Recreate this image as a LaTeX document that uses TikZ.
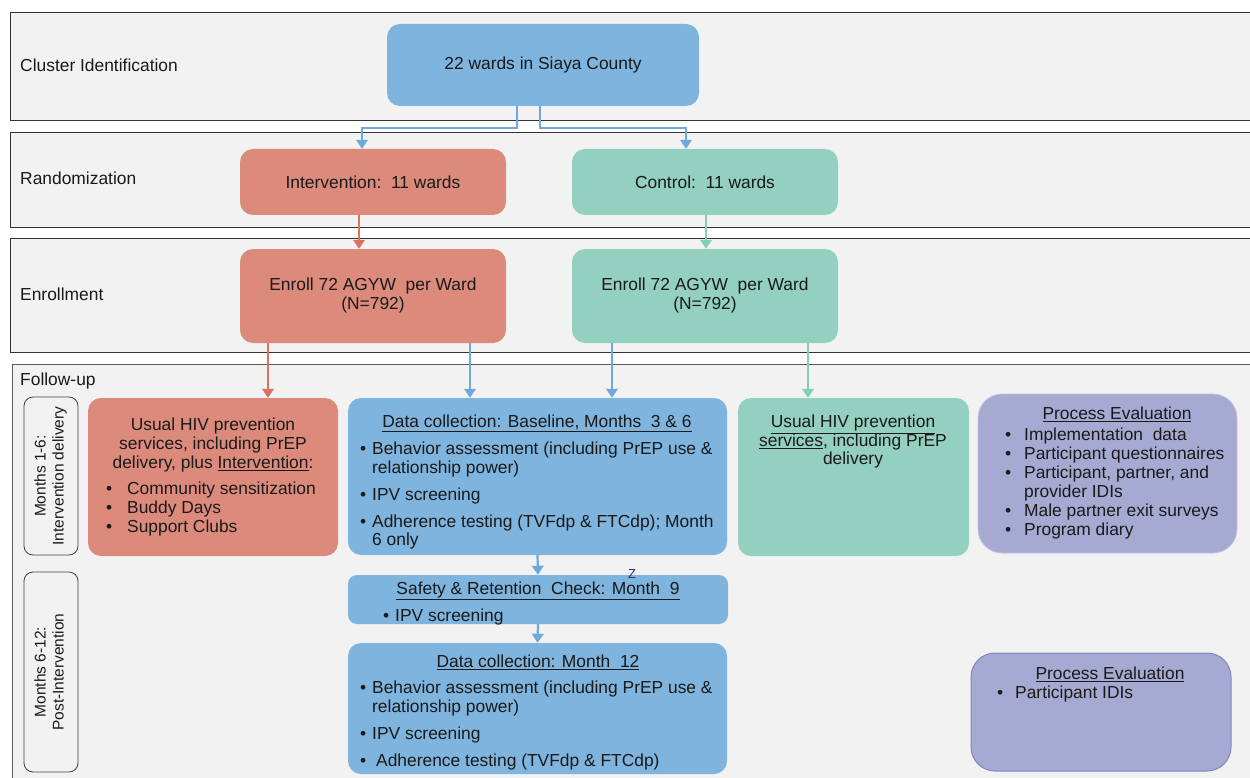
\documentclass[tikz,border=0pt]{standalone}
\usepackage{fontspec}
\setmainfont{Liberation Sans}
\usetikzlibrary{arrows.meta}
\definecolor{bandfill}{HTML}{F2F2F2}
\definecolor{cblue}{HTML}{7EB4DD}
\definecolor{cred}{HTML}{DC8A7C}
\definecolor{cteal}{HTML}{93D0BF}
\definecolor{cpurple}{HTML}{A6AAD2}
\definecolor{cpurpleb}{HTML}{7C86C6}
\definecolor{ablue}{HTML}{6FA8DC}
\definecolor{ared}{HTML}{D9735F}
\definecolor{ateal}{HTML}{86CDB8}
\definecolor{txtc}{HTML}{1A1A1A}
\definecolor{navyz}{HTML}{1F3864}
\newcommand\myfs{\fontsize{17.4}{19}\selectfont}
\newcommand\myfsb{\fontsize{17.4}{18.5}\selectfont}
\newcommand\myfss{\fontsize{15.5}{18}\selectfont}
\begin{document}
\begin{tikzpicture}[x=1pt,y=-1pt,
  band/.style={draw=black!80, fill=bandfill, line width=0.9pt},
  box/.style={rounded corners=13pt, inner sep=0pt, draw=none, font=\myfs, text=txtc},
  side/.style={rounded corners=9pt, draw=black!75, line width=0.8pt, inner sep=0pt},
  lbl/.style={inner sep=0pt, font=\myfs, text=txtc},
  lblb/.style={inner sep=0pt, font=\myfsb, text=txtc},
  arr/.style={line width=2.2pt, -{Triangle[width=11.5pt,length=9pt]}},
]
\useasboundingbox (0,0) rectangle (1250,778);
\clip (0,0) rectangle (1250,778);
\fill[white] (0,0) rectangle (1250,778);
% bands
\draw[band] (10,12) rectangle (1260,120);
\draw[band] (10,132) rectangle (1260,227);
\draw[band] (10,238) rectangle (1260,352);
\draw[band, draw=black!65] (12,364) rectangle (1260,800);
\node[lbl, anchor=west] (bl1) at (20,65) {Cluster Identification};
\node[lbl, anchor=west] (bl2) at (20,178) {Randomization};
\node[lbl, anchor=west] (bl3) at (20,294) {Enrollment};
\node[lbl, anchor=west] (bl4) at (20,381) {Follow-up};

% top boxes
\node[box, fill=cblue, minimum width=312pt, minimum height=82pt] (wards) at (543,65) {22 wards in Siaya County};
\node[box, fill=cred, minimum width=266pt, minimum height=66pt] (int) at (373,182) {Intervention:\ \ 11 wards};
\node[box, fill=cteal, minimum width=266pt, minimum height=66pt] (ctl) at (705,182) {Control:\ \ 11 wards};
\node[box, fill=cred, minimum width=266pt, minimum height=94pt] (enI) at (373,296) {\begin{tabular}{@{}c@{}}Enroll 72 AGYW\ \ per Ward\\(N=792)\end{tabular}};
\node[box, fill=cteal, minimum width=266pt, minimum height=94pt] (enC) at (705,296) {\begin{tabular}{@{}c@{}}Enroll 72 AGYW\ \ per Ward\\(N=792)\end{tabular}};

% side labels
\node[side, minimum width=54pt, minimum height=158pt] (m16) at (51,476) {};
\node[inner sep=0pt, rotate=90, font=\myfss, text=txtc] (m16t) at (m16.center) {\begin{tabular}{@{}c@{}}Months 1-6:\\Intervention delivery\end{tabular}};
\node[side, minimum width=54pt, minimum height=200pt] (m612) at (51,672) {};
\node[inner sep=0pt, rotate=90, font=\myfss, text=txtc] (m612t) at (m612.center) {\begin{tabular}{@{}c@{}}Months 6-12:\\Post-Intervention\end{tabular}};

% follow-up boxes
\node[box, fill=cred, minimum width=250pt, minimum height=158pt] (redF) at (213,477) {};
\node[lbl, anchor=north] (redT) at (213,416.7) {\begin{tabular}{@{}c@{}}Usual HIV prevention\\services, including PrEP\\delivery, plus \underline{Intervention}:\end{tabular}};
\node[lbl, anchor=north west] (redL) at (106,480.7) {\begin{tabular}{@{}p{21pt}@{}l@{}}\textbullet & Community sensitization\\\textbullet & Buddy Days\\\textbullet & Support Clubs\end{tabular}};

\node[box, fill=cblue, minimum width=379pt, minimum height=157pt] (dc1) at (537.5,476.5) {};
\node[lbl, anchor=north] (dc1T) at (537,414.7) {\underline{Data collection: Baseline, Months\ \ 3 \& 6}};
\node[lblb, anchor=north west] (dc1L) at (360,441.7) {\begin{tabular}{@{}p{12pt}@{}l@{}}\textbullet & Behavior assessment (including PrEP use \&\\ & relationship power)\\[8.5pt]\textbullet & IPV screening\\[8.5pt]\textbullet & Adherence testing (TVFdp \& FTCdp); Month\\ & 6 only\end{tabular}};

\node[box, fill=cteal, minimum width=231pt, minimum height=158pt] (tealF) at (853.5,477) {};
\node[lblb, anchor=north] (tealT) at (853,414.7) {\begin{tabular}{@{}c@{}}\underline{Usual HIV prevention}\\\underline{services}, including PrEP\\delivery\end{tabular}};

\node[box, rounded corners=24pt, fill=cpurple, draw=cpurple!70!white, line width=0.8pt, minimum width=259pt, minimum height=159pt] (pe1) at (1107.5,473.5) {};
\node[lbl, anchor=north] (pe1T) at (1117,406.7) {\underline{Process Evaluation}};
\node[lbl, anchor=north west] (pe1L) at (1005,426.7) {\begin{tabular}{@{}p{19pt}@{}l@{}}\textbullet & Implementation\ \ data\\\textbullet & Participant questionnaires\\\textbullet & Participant, partner,\ and\\ & provider IDIs\\\textbullet & Male partner exit surveys\\\textbullet & Program diary\end{tabular}};

\node[box, rounded corners=9pt, fill=cblue, minimum width=380pt, minimum height=49pt] (safe) at (538,599.5) {};
\node[lbl, anchor=north] (safeT) at (538,581.7) {\underline{Safety \& Retention\ \ Check: Month\ \ 9}};
\node[lbl, anchor=north west] (safeL) at (383,607.7) {\begin{tabular}{@{}p{12pt}@{}l@{}}\textbullet & IPV screening\end{tabular}};
\node[inner sep=0pt, font=\fontsize{13}{15}\selectfont, text=navyz] (zz) at (632,574) {Z};

\node[box, fill=cblue, minimum width=379pt, minimum height=131pt] (dc12) at (537.5,708.5) {};
\node[lbl, anchor=north] (dc12T) at (538,654.7) {\underline{Data collection: Month\ \ 12}};
\node[lblb, anchor=north west] (dc12L) at (360,680.7) {\begin{tabular}{@{}p{12pt}@{}l@{}}\textbullet & Behavior assessment (including PrEP use \&\\ & relationship power)\\[8.5pt]\textbullet & IPV screening\\[8.5pt]\textbullet & \hspace{4pt}Adherence testing (TVFdp \& FTCdp)\end{tabular}};

\node[box, rounded corners=24pt, fill=cpurple, draw=cpurpleb, line width=1pt, minimum width=260pt, minimum height=118pt] (pe2) at (1101,712) {};
\node[lbl, anchor=north] (pe2T) at (1110,666.7) {\underline{Process Evaluation}};
\node[lbl, anchor=north west] (pe2L) at (997,684.7) {\begin{tabular}{@{}p{18pt}@{}l@{}}\textbullet & Participant IDIs\end{tabular}};

% connectors
\draw[arr, ablue] ([xshift=-26pt]wards.south) -- ++(0,22) -| ([xshift=-11pt]int.north);
\draw[arr, ablue] ([xshift=-3pt]wards.south) -- ++(0,22) -| ([xshift=-19pt]ctl.north);
\draw[arr, ared] ([xshift=-14pt]int.south) -- ([xshift=-14pt]enI.north);
\draw[arr, ateal] ([xshift=1pt]ctl.south) -- ([xshift=1pt]enC.north);
\draw[arr, ared] ([xshift=-105pt]enI.south) -- ([xshift=-105pt]enI.south |- redF.north);
\draw[arr, ablue] ([xshift=97pt]enI.south) -- ([xshift=97pt]enI.south |- dc1.north);
\draw[arr, ablue] ([xshift=-93pt]enC.south) -- ([xshift=-93pt]enC.south |- dc1.north);
\draw[arr, ateal] ([xshift=103pt]enC.south) -- ([xshift=103pt]enC.south |- tealF.north);
\draw[arr, ablue] (dc1.south) -- (safe.north);
\draw[arr, ablue] (safe.south) -- (dc12.north);
\end{tikzpicture}
\end{document}
